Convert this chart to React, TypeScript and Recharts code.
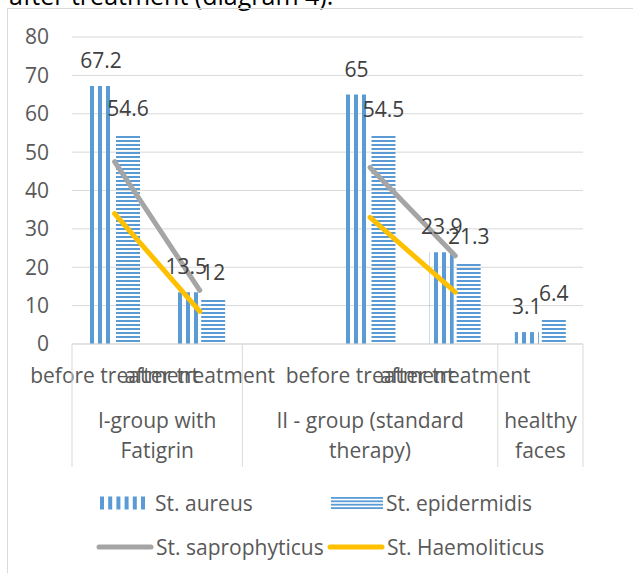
import {
  ComposedChart,
  Bar,
  Line,
  XAxis,
  YAxis,
  CartesianGrid,
  LabelList,
  Legend,
} from "recharts";

// categories (index 2 is an empty spacer slot inside group II, index 5 is healthy faces)
const categories = ["before treatment", "after treatment", "", "before treatment", "after treatment", ""];
const aureus = [67.2, 13.5, null, 65, 23.9, 3.1];
const epidermidis = [54.6, 12, null, 54.5, 21.3, 6.4];
const saprophyticus = [47.5, 14, null, 46, 23, null];
const haemoliticus = [34, 8.5, null, 33, 13.5, null];

const groups = [
  { lines: ["I-group with", "Fatigrin"], start: 0, span: 2 },
  { lines: ["II - group (standard", "therapy)"], start: 2, span: 3 },
  { lines: ["healthy", "faces"], start: 5, span: 1 },
];

const yTicks = [0, 10, 20, 30, 40, 50, 60, 70, 80];

const data = categories.map((cat, i) => ({
  cat,
  aureus: aureus[i],
  epidermidis: epidermidis[i],
  saprophyticus: saprophyticus[i],
  haemoliticus: haemoliticus[i],
}));

const W = 633;
const H = 573;
const Y_AXIS_W = 72;
const RIGHT = 50;
const PLOT_W = W - Y_AXIS_W - RIGHT;
const BAND = PLOT_W / categories.length;

const BLUE = "#5B9BD5";
const GRAY = "#A5A5A5";
const YELLOW = "#FFC000";
const TEXT = "#595959";
const GRID = "#D9D9D9";
const FONT = "'Open Sans', sans-serif";

const CategoryTick = (props: any) => {
  const { x, y, index } = props;
  const g = groups.find((gr) => gr.start === index);
  const last = index === categories.length - 1;
  return (
    <g>
      <text x={x} y={y + 39} textAnchor="middle" fontSize={21} fill={TEXT}>
        {categories[index]}
      </text>
      {g && (
        <>
          <line x1={x - BAND / 2} x2={x - BAND / 2} y1={y} y2={y + 123} stroke={GRID} />
          {g.lines.map((t, k) => (
            <text
              key={k}
              x={x - BAND / 2 + (g.span * BAND) / 2}
              y={y + 84 + k * 30}
              textAnchor="middle"
              fontSize={21}
              fill={TEXT}
            >
              {t}
            </text>
          ))}
        </>
      )}
      {last && <line x1={x + BAND / 2} x2={x + BAND / 2} y1={y} y2={y + 123} stroke={GRID} />}
    </g>
  );
};

const VStripeIcon = () => (
  <svg width={56} height={14}>
    {[0, 1, 2, 3, 4, 5].map((i) => (
      <rect key={i} x={3 + i * 8.2} y={0.5} width={4} height={13} fill={BLUE} />
    ))}
  </svg>
);

const HStripeIcon = () => (
  <svg width={56} height={14}>
    {[0, 1, 2, 3].map((i) => (
      <rect key={i} x={3} y={1 + i * 3.4} width={52} height={1.8} fill={BLUE} />
    ))}
  </svg>
);

const LineIcon = ({ color }: { color: string }) => (
  <svg width={58} height={14}>
    <line x1={3} x2={55} y1={7} y2={7} stroke={color} strokeWidth={5} strokeLinecap="round" />
  </svg>
);

const legendItems = [
  { name: "St. aureus", icon: <VStripeIcon />, left: 97, top: 0 },
  { name: "St. epidermidis", icon: <HStripeIcon />, left: 328, top: 0 },
  { name: "St. saprophyticus", icon: <LineIcon color={GRAY} />, left: 96, top: 44 },
  { name: "St. Haemoliticus", icon: <LineIcon color={YELLOW} />, left: 327, top: 44 },
];

const renderLegend = () => (
  <div style={{ position: "relative", width: W, height: 83, fontFamily: FONT }}>
    {legendItems.map((it) => (
      <div
        key={it.name}
        style={{
          position: "absolute",
          left: it.left,
          top: it.top,
          height: 26,
          display: "flex",
          alignItems: "center",
          fontSize: 21,
          color: TEXT,
          whiteSpace: "nowrap",
        }}
      >
        {it.icon}
        <span style={{ marginLeft: 2 }}>{it.name}</span>
      </div>
    ))}
  </div>
);

export default function App() {
  return (
    <div
      style={{
        position: "absolute",
        left: 0,
        top: 0,
        width: W,
        height: H,
        overflow: "hidden",
        background: "#fff",
        fontFamily: FONT,
      }}
    >
      <div
        style={{
          position: "absolute",
          left: 9,
          top: -17,
          fontSize: 25,
          lineHeight: "25px",
          color: "#000",
          whiteSpace: "nowrap",
        }}
      >
        after treatment (diagram 4).
      </div>
      <div
        style={{
          position: "absolute",
          left: 7,
          top: 8,
          width: 700,
          height: 700,
          border: `1px solid ${GRID}`,
        }}
      />
      <div style={{ position: "absolute", left: 0, top: 0 }}>
        <ComposedChart
          width={W}
          height={H}
          data={data}
          margin={{ top: 37, right: RIGHT, left: 0, bottom: 0 }}
          barSize={24}
          barGap={3}
        >
          <defs>
            <pattern id="vstripe" patternUnits="userSpaceOnUse" width={8} height={8}>
              <rect x={2} y={0} width={4} height={8} fill={BLUE} />
            </pattern>
            <pattern id="hstripe" patternUnits="userSpaceOnUse" width={8} height={4}>
              <rect x={0} y={0} width={8} height={2} fill={BLUE} />
            </pattern>
          </defs>
          <CartesianGrid vertical={false} stroke={GRID} />
          <XAxis
            dataKey="cat"
            interval={0}
            height={146}
            tickLine={false}
            tickSize={0}
            tickMargin={0}
            axisLine={{ stroke: GRID }}
            tick={<CategoryTick />}
          />
          <YAxis
            width={Y_AXIS_W}
            domain={[0, 80]}
            ticks={yTicks}
            axisLine={false}
            tickLine={false}
            tickSize={6}
            tickMargin={17}
            tick={{ fontSize: 21, fill: TEXT }}
          />
          <Bar dataKey="aureus" name="St. aureus" fill="url(#vstripe)" isAnimationActive={false}>
            <LabelList dataKey="aureus" position="top" offset={18} fontSize={21} fill="#404040" />
          </Bar>
          <Bar dataKey="epidermidis" name="St. epidermidis" fill="url(#hstripe)" isAnimationActive={false}>
            <LabelList dataKey="epidermidis" position="top" offset={18} fontSize={21} fill="#404040" />
          </Bar>
          <Line
            dataKey="saprophyticus"
            name="St. saprophyticus"
            type="linear"
            stroke={GRAY}
            strokeWidth={5}
            strokeLinecap="round"
            dot={false}
            activeDot={false}
            isAnimationActive={false}
          />
          <Line
            dataKey="haemoliticus"
            name="St. Haemoliticus"
            type="linear"
            stroke={YELLOW}
            strokeWidth={5}
            strokeLinecap="round"
            dot={false}
            activeDot={false}
            isAnimationActive={false}
          />
          <Legend
            verticalAlign="bottom"
            content={renderLegend}
            wrapperStyle={{ left: 0, bottom: 0, width: W, height: 83 }}
          />
        </ComposedChart>
      </div>
    </div>
  );
}
